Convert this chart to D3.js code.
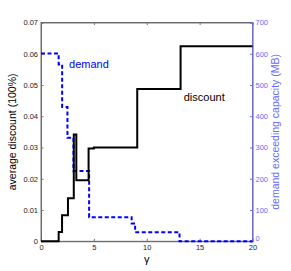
<!DOCTYPE html>
<html>
<head>
<meta charset="utf-8">
<script src="https://cdn.jsdelivr.net/npm/d3@7"></script>
<style>
  body { margin: 0; background: #fff; }
  svg { font-family: "Liberation Sans", Arial, sans-serif; }
</style>
</head>
<body>
<div id="viz"></div>
<script>
// step positions (gamma) and levels
const discountX = [0, 1.67, 1.99, 2.55, 3.1, 3.34, 4.5, 5.0, 9.1, 13.2, 20];
const discountY = [0, 0.003, 0.0083, 0.0138, 0.0342, 0.0195, 0.0297, 0.030, 0.0487, 0.0624, 0.0624];

const demandX = [0, 1.67, 2.0, 2.5, 3.07, 4.55, 8.57, 8.9, 13.1, 20];
const demandY = [601, 566, 430, 331, 225, 77, 57, 29, 0, 0];

const xTicks = [0, 5, 10, 15, 20];
const leftTicks = [0, 0.01, 0.02, 0.03, 0.04, 0.05, 0.06, 0.07];
const rightTicks = [0, 100, 200, 300, 400, 500, 600, 700];

const W = 291, H = 271;
const margin = { left: 41, right: 38.5, top: 22.5, bottom: 29.75 };
const blue = "#0000ff";
const axisBlue = "#6a6aff";

const svg = d3.select("#viz").append("svg")
  .attr("width", W)
  .attr("height", H);

const x = d3.scaleLinear().domain([0, 20]).range([margin.left, W - margin.right]);
const yL = d3.scaleLinear().domain([0, 0.07]).range([H - margin.bottom, margin.top]);
const yR = d3.scaleLinear().domain([0, 700]).range([H - margin.bottom, margin.top]);

// frame
svg.append("rect")
  .attr("x", x(0)).attr("y", yL(0.07))
  .attr("width", x(20) - x(0)).attr("height", yL(0) - yL(0.07))
  .attr("fill", "none").attr("stroke", "#555").attr("stroke-width", 0.8);

const fmtL = d => d === 0 ? "0" : d3.format(".2f")(d);

// bottom axis
svg.append("g")
  .attr("transform", `translate(0,${yL(0)})`)
  .call(d3.axisBottom(x).tickValues(xTicks).tickSize(-2.5).tickPadding(3));
// top ticks
svg.append("g")
  .attr("transform", `translate(0,${yL(0.07)})`)
  .call(d3.axisTop(x).tickValues(xTicks).tickSize(-2.5).tickFormat(""));
// left axis
svg.append("g")
  .attr("transform", `translate(${x(0)},0)`)
  .call(d3.axisLeft(yL).tickValues(leftTicks).tickSize(-2.5).tickPadding(3).tickFormat(fmtL));
// right axis
const right = svg.append("g")
  .attr("class", "right")
  .attr("transform", `translate(${x(20)},0)`)
  .call(d3.axisRight(yR).tickValues(rightTicks).tickSize(-2.5).tickPadding(3));

svg.selectAll(".domain").attr("stroke", "#555").attr("stroke-width", 0.8);
svg.selectAll(".tick line").attr("stroke", "#777");
svg.selectAll(".tick text").attr("font-size", "7.5px").attr("fill", "#222")
  .attr("font-family", "Liberation Sans, Arial, sans-serif");
right.select(".domain").attr("stroke", axisBlue).attr("stroke-width", 1.2);
right.selectAll(".tick line").attr("stroke", axisBlue);
right.selectAll(".tick text").attr("fill", axisBlue);
// lift the right "0" a little so it sits beside the bottom "20"
right.selectAll(".tick text").filter(d => d === 0).attr("dy", "-0.05em");

// demand (dashed blue)
const demandLine = d3.line()
  .x((d, i) => x(demandX[i]))
  .y(d => yR(d))
  .curve(d3.curveStepAfter);
svg.append("path")
  .attr("d", demandLine(demandY))
  .attr("fill", "none")
  .attr("stroke", blue)
  .attr("stroke-width", 2)
  .attr("stroke-dasharray", "4,2.5");

// discount (solid black)
const discountLine = d3.line()
  .x((d, i) => x(discountX[i]))
  .y(d => yL(d))
  .curve(d3.curveStepAfter);
svg.append("path")
  .attr("d", discountLine(discountY))
  .attr("fill", "none")
  .attr("stroke", "#000")
  .attr("stroke-width", 2);

// labels
svg.append("text")
  .attr("x", x(2.65)).attr("y", yR(556))
  .attr("font-size", "11px").attr("fill", blue)
  .text("demand");
svg.append("text")
  .attr("x", x(13.5)).attr("y", yL(0.0448))
  .attr("font-size", "11px").attr("fill", "#000")
  .text("discount");

svg.append("text")
  .attr("x", x(10)).attr("y", 263)
  .attr("text-anchor", "middle")
  .attr("font-size", "11px").attr("fill", "#000")
  .text("γ");

svg.append("text")
  .attr("transform", `translate(16,${(yL(0) + yL(0.07)) / 2}) rotate(-90)`)
  .attr("text-anchor", "middle")
  .attr("font-size", "10.5px").attr("fill", "#000")
  .text("average discount (100%)");

svg.append("text")
  .attr("transform", `translate(279,${(yL(0) + yL(0.07)) / 2}) rotate(-90)`)
  .attr("text-anchor", "middle")
  .attr("font-size", "10.5px").attr("fill", axisBlue)
  .text("demand exceeding capacity (MB)");
</script>
</body>
</html>
